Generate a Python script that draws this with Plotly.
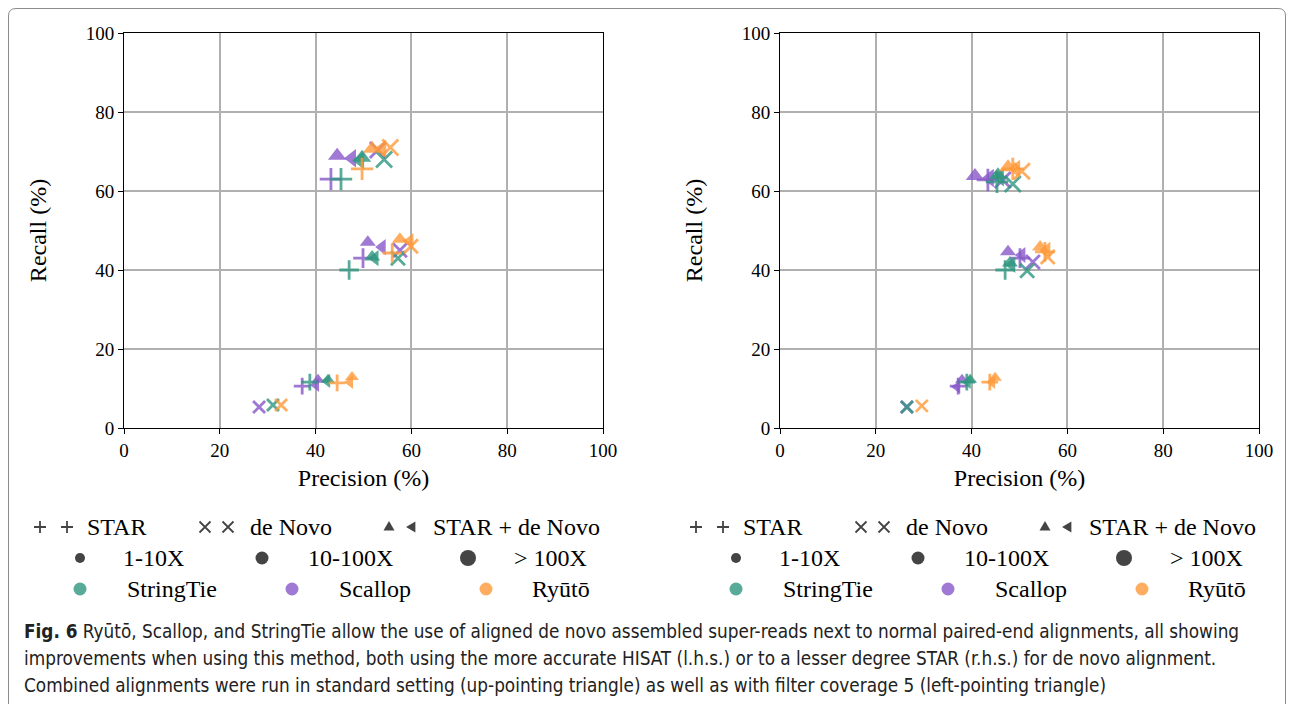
import plotly.graph_objects as go

# ---------------- data ----------------
TOOLS = ["StringTie", "Scallop", "Ryūtō"]
TOOL_COLORS = ["#2f9680", "#8757c8", "#ff9a3a"]
COVERAGES = ["1-10X", "10-100X", "> 100X"]
COV_SIZES = [12, 14, 16]
METHODS = ["STAR", "de Novo", "STAR + de Novo", "STAR + de Novo (filter 5)"]
METHOD_SYMBOLS = ["cross-thin", "x-thin", "triangle-up", "triangle-left"]

# each list: [StringTie c1, c2, c3, Scallop c1, c2, c3, Ryuto c1, c2, c3]
# ---- left panel (HISAT de novo alignment)
L_STAR_P = [38.8, 47.0, 45.3, 37.2, 49.9, 43.2, 44.5, 56.0, 49.7]
L_STAR_R = [11.6, 40.0, 63.0, 10.6, 43.0, 63.0, 11.4, 44.3, 65.6]
L_DENOVO_P = [31.1, 57.2, 54.3, 28.2, 57.6, 53.0, 32.8, 59.9, 55.6]
L_DENOVO_R = [5.8, 43.0, 68.0, 5.3, 45.0, 70.4, 5.8, 46.0, 71.0]
L_COMB_P = [42.6, 51.8, 49.7, 40.5, 50.9, 44.5, 47.6, 57.6, 51.8]
L_COMB_R = [12.2, 43.3, 68.4, 12.2, 47.0, 68.9, 12.9, 47.8, 70.7]
L_FILT_P = [42.4, 52.4, 49.3, 40.1, 53.9, 47.6, 47.2, 59.7, 53.9]
L_FILT_R = [11.9, 43.0, 67.8, 10.9, 45.8, 68.3, 11.6, 47.3, 70.7]
# ---- right panel (STAR de novo alignment)
R_STAR_P = [39.0, 47.0, 45.3, 37.2, 50.1, 43.4, 43.8, 55.3, 48.6]
R_STAR_R = [11.6, 40.0, 62.3, 10.6, 43.0, 62.8, 11.6, 44.6, 65.6]
R_DENOVO_P = [26.5, 51.6, 48.6, 26.5, 52.8, 46.5, 29.6, 55.9, 50.5]
R_DENOVO_R = [5.3, 39.8, 61.8, 5.3, 42.0, 62.8, 5.6, 43.3, 65.0]
R_COMB_P = [39.7, 48.0, 45.5, 38.0, 47.6, 40.7, 44.9, 54.3, 47.6]
R_COMB_R = [12.2, 41.8, 64.0, 12.2, 44.6, 63.8, 12.7, 45.8, 66.0]
R_FILT_P = [39.2, 48.4, 45.9, 37.0, 50.5, 43.8, 44.3, 55.7, 49.3]
R_FILT_R = [11.6, 41.3, 63.5, 10.4, 43.8, 63.3, 11.6, 45.1, 65.6]

AXIS_TICKS = [0, 20, 40, 60, 80, 100]
X_TITLE = "Precision (%)"
Y_TITLE = "Recall (%)"
LEGEND_METHODS = ["STAR", "de Novo", "STAR + de Novo"]
CAPTION = [
    "<b>Fig. 6</b> Ryūtō, Scallop, and StringTie allow the use of aligned de novo assembled super-reads next to normal paired-end alignments, all showing",
    "improvements when using this method, both using the more accurate HISAT (l.h.s.) or to a lesser degree STAR (r.h.s.) for de novo alignment.",
    "Combined alignments were run in standard setting (up-pointing triangle) as well as with filter coverage 5 (left-pointing triangle)",
]

W, H = 1293, 704
SERIF = "Liberation Serif, Times New Roman, serif"
CAP_FONT = "Liberation Sans Narrow, DejaVu Sans Condensed, Roboto, sans-serif"


def px(x):
    return x / W


def py(y):
    return 1 - y / H


fig = go.Figure()

panels = [
    ("x", "y", [(L_STAR_P, L_STAR_R), (L_DENOVO_P, L_DENOVO_R), (L_COMB_P, L_COMB_R), (L_FILT_P, L_FILT_R)]),
    ("x2", "y2", [(R_STAR_P, R_STAR_R), (R_DENOVO_P, R_DENOVO_R), (R_COMB_P, R_COMB_R), (R_FILT_P, R_FILT_R)]),
]

draw_order = [1, 0, 2]  # Scallop, StringTie, Ryuto
for xa, ya, series in panels:
    for ti in draw_order:
        for mi, (P, R) in enumerate(series):
            sl = slice(ti * 3, ti * 3 + 3)
            thin = METHOD_SYMBOLS[mi] in ("cross-thin", "x-thin")
            fig.add_trace(go.Scatter(
                x=P[sl], y=R[sl], xaxis=xa, yaxis=ya, mode="markers",
                name=f"{TOOLS[ti]} {METHODS[mi]}", showlegend=False,
                marker=dict(
                    symbol=METHOD_SYMBOLS[mi],
                    size=COV_SIZES,
                    color=TOOL_COLORS[ti],
                    opacity=0.8,
                    line=dict(width=2.8 if thin else 0, color=TOOL_COLORS[ti]),
                ),
                hoverinfo="skip",
            ))

axis_common = dict(
    range=[0, 100], tickvals=AXIS_TICKS, showgrid=True, gridcolor="#b0b0b0", gridwidth=1.5,
    zeroline=False, showline=True, linecolor="black", linewidth=1, mirror=True,
    ticks="outside", ticklen=5, tickcolor="black", automargin=False,
    tickfont=dict(family=SERIF, size=19, color="black"),
)
title_font = dict(family=SERIF, size=24, color="black")

fig.update_layout(
    template="none",
    width=W, height=H, margin=dict(l=0, r=0, t=0, b=0, pad=0), autosize=False,
    paper_bgcolor="white", plot_bgcolor="white", showlegend=False,
    xaxis=dict(domain=[px(124), px(603)], anchor="y",
               title=dict(text=X_TITLE, font=title_font, standoff=9), **axis_common),
    yaxis=dict(domain=[py(428), py(33)], anchor="x",
               title=dict(text=Y_TITLE, font=title_font, standoff=32), **axis_common),
    xaxis2=dict(domain=[px(780), px(1259)], anchor="y2",
                title=dict(text=X_TITLE, font=title_font, standoff=9), **axis_common),
    yaxis2=dict(domain=[py(428), py(33)], anchor="x2",
                title=dict(text=Y_TITLE, font=title_font, standoff=32), **axis_common),
)

# ---------------- custom legends (shapes + text in paper space) ----------------
LEG_DARK = "#444444"
ROW_Y = [527, 558, 589]


def plus_path(cx, cy, r):
    return (f"M {px(cx - r)} {py(cy)} L {px(cx + r)} {py(cy)} "
            f"M {px(cx)} {py(cy - r)} L {px(cx)} {py(cy + r)}")


def x_path(cx, cy, r):
    return (f"M {px(cx - r)} {py(cy - r)} L {px(cx + r)} {py(cy + r)} "
            f"M {px(cx - r)} {py(cy + r)} L {px(cx + r)} {py(cy - r)}")


def tri_up_path(cx, cy, r):
    return (f"M {px(cx - r)} {py(cy + r * 0.8)} L {px(cx + r)} {py(cy + r * 0.8)} "
            f"L {px(cx)} {py(cy - r * 0.9)} Z")


def tri_left_path(cx, cy, r):
    return (f"M {px(cx + r * 0.8)} {py(cy - r)} L {px(cx + r * 0.8)} {py(cy + r)} "
            f"L {px(cx - r * 0.9)} {py(cy)} Z")


def circle(cx, cy, d, color, opacity=1.0):
    fig.add_shape(type="circle", xref="paper", yref="paper",
                  x0=px(cx - d / 2), x1=px(cx + d / 2), y0=py(cy + d / 2), y1=py(cy - d / 2),
                  fillcolor=color, opacity=opacity, line=dict(width=0))


def label(x, y, text, size=24):
    fig.add_annotation(x=px(x), y=py(y), xref="paper", yref="paper", text=text,
                       showarrow=False, xanchor="left", yanchor="middle",
                       font=dict(family=SERIF, size=size, color="black"))


for off in (0, 656):
    # row 1: method symbols
    for cx in (40, 67):
        fig.add_shape(type="path", xref="paper", yref="paper", path=plus_path(cx + off, ROW_Y[0], 6),
                      line=dict(color=LEG_DARK, width=1.8))
    for cx in (205, 228):
        fig.add_shape(type="path", xref="paper", yref="paper", path=x_path(cx + off, ROW_Y[0], 5.5),
                      line=dict(color=LEG_DARK, width=1.8))
    fig.add_shape(type="path", xref="paper", yref="paper", path=tri_up_path(389 + off, ROW_Y[0] - 1, 5.5),
                  fillcolor=LEG_DARK, line=dict(width=0))
    fig.add_shape(type="path", xref="paper", yref="paper", path=tri_left_path(411 + off, ROW_Y[0], 5.5),
                  fillcolor=LEG_DARK, line=dict(width=0))
    for tx, lab in zip((85, 248, 431), LEGEND_METHODS):
        label(tx + off, ROW_Y[0], lab)
    # row 2: coverage sizes
    for cx, d, tx, lab in zip((80, 262, 468), (10, 13, 16), (121, 306, 512), COVERAGES):
        circle(cx + off, ROW_Y[1], d, LEG_DARK)
        label(tx + off, ROW_Y[1], lab)
    # row 3: tools
    for cx, col, tx, lab in zip((80, 292, 486), TOOL_COLORS, (125, 337, 530), TOOLS):
        circle(cx + off, ROW_Y[2], 13, col, opacity=0.8)
        label(tx + off, ROW_Y[2], lab)

# ---------------- caption ----------------
for i, line in enumerate(CAPTION):
    fig.add_annotation(x=px(22), y=py(631 + 27 * i), xref="paper", yref="paper", text=line,
                       showarrow=False, xanchor="left", yanchor="middle",
                       font=dict(family=CAP_FONT, size=18.8, color="#222222"))

# outer frame
fig.add_shape(type="path", xref="paper", yref="paper",
              path=(f"M {px(8.5)} {py(720)} L {px(8.5)} {py(16)} Q {px(8.5)} {py(8.5)} {px(16)} {py(8.5)} "
                    f"L {px(1278)} {py(8.5)} Q {px(1285.5)} {py(8.5)} {px(1285.5)} {py(16)} L {px(1285.5)} {py(720)}"),
              line=dict(color="#8c8c8c", width=1), layer="below")

fig.write_html(
    "out.html",
    config={"displayModeBar": False},
    post_script="document.body.style.margin='0';document.body.style.overflow='hidden';",
)
